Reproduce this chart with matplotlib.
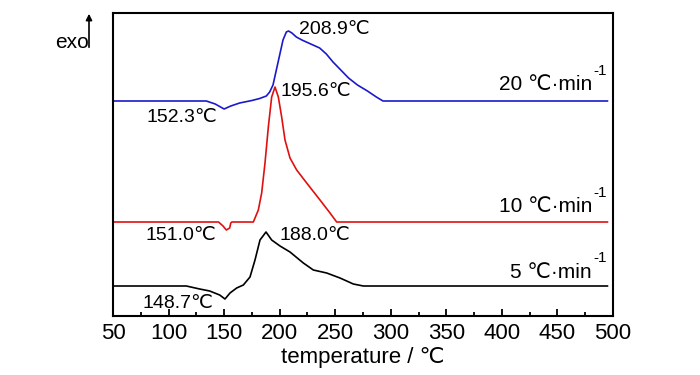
import matplotlib
matplotlib.use("Agg")
import matplotlib.pyplot as plt
from matplotlib.ticker import MultipleLocator

plt.rcParams['font.family'] = ['Liberation Sans', 'DejaVu Sans']

# DSC curves (arbitrary heat-flow units, exo up)
t20 = [50, 134, 142, 150, 156, 164, 175, 182, 188, 191, 194, 197, 200, 203, 206, 208,
       211, 215, 220, 226, 236, 242, 248, 255, 262, 270, 279, 287, 293, 495]
y20 = [215, 215, 212, 207, 210, 213, 215.5, 217.5, 220, 224, 231, 246, 261, 276, 284, 285,
       283, 279, 276, 273, 268, 262, 254, 246, 238, 231, 225, 219, 215, 215]

t10 = [50, 145, 149, 152, 155, 156, 157, 176.3, 180.8, 183.8, 186.8, 189.8, 192.8, 195.8,
       198.8, 201.8, 204.8, 209.3, 215.3, 224.3, 236.3, 245.3, 251.3, 495]
y10 = [94, 94, 90, 86, 88, 93, 94, 94, 106, 123, 153, 189, 219, 229,
       219, 199, 176, 158, 146, 133, 116, 103, 94, 94]

t5 = [50, 116, 128, 137, 146, 150.8, 155.3, 161.3, 167.3, 173.3, 177.8, 182.3, 187.7,
      192.8, 200.3, 209.3, 221.3, 230.3, 242.3, 254.3, 266.3, 275.3, 495]
y5 = [30, 30, 27, 25, 21, 17, 23, 28, 31, 39, 56, 76, 84,
      76, 70, 64, 53, 46, 43, 38, 32, 30, 30]

rate_labels = ["20 ℃·min", "10 ℃·min", "5 ℃·min"]
peak_labels = ["208.9℃", "195.6℃", "188.0℃"]
onset_labels = ["152.3℃", "151.0℃", "148.7℃"]

fig = plt.figure(figsize=(7, 3.75), dpi=100)
ax = fig.add_axes([113/700, 59/375, 500/700, 303/375])

ax.plot(t20, y20, color='#1a1acc', lw=1.2)
ax.plot(t10, y10, color='#e01010', lw=1.2)
ax.plot(t5, y5, color='black', lw=1.2)

ax.set_xlim(50, 500)
ax.set_ylim(0, 303)
ax.set_yticks([])
ax.xaxis.set_major_locator(MultipleLocator(50))
ax.xaxis.set_minor_locator(MultipleLocator(25))
ax.tick_params(axis='x', which='major', direction='in', length=5, width=1.3,
               labelsize=16, pad=5, top=False)
ax.tick_params(axis='x', which='minor', direction='in', length=3, width=1.3, top=False)
for s in ax.spines.values():
    s.set_linewidth(1.5)

fs = 14
ax.set_xlabel("temperature / ℃", fontsize=16, labelpad=2)

ax.text(249, 286, peak_labels[0], fontsize=fs, ha='center', va='center')
ax.text(232.7, 224, peak_labels[1], fontsize=fs, ha='center', va='center')
ax.text(232, 80, peak_labels[2], fontsize=fs, ha='center', va='center')
ax.text(112, 198, onset_labels[0], fontsize=fs, ha='center', va='center')
ax.text(111, 80, onset_labels[1], fontsize=fs, ha='center', va='center')
ax.text(108.5, 13, onset_labels[2], fontsize=fs, ha='center', va='center')

for lbl, yc in zip(rate_labels, [231, 109, 44]):
    ax.text(481, yc, lbl, fontsize=15, ha='right', va='center')
    ax.text(482, yc + 14, "-1", fontsize=11, ha='left', va='center')

fig.text(55/700, 1 - 43/375, "exo", fontsize=15, ha='left', va='center')
ax.annotate("", xy=(89/700, 1 - 11/375), xytext=(89/700, 1 - 50/375),
            xycoords='figure fraction', textcoords='figure fraction',
            arrowprops=dict(arrowstyle='-|>', lw=1.2, color='black', mutation_scale=9))

fig.savefig("out.png", dpi=100)
